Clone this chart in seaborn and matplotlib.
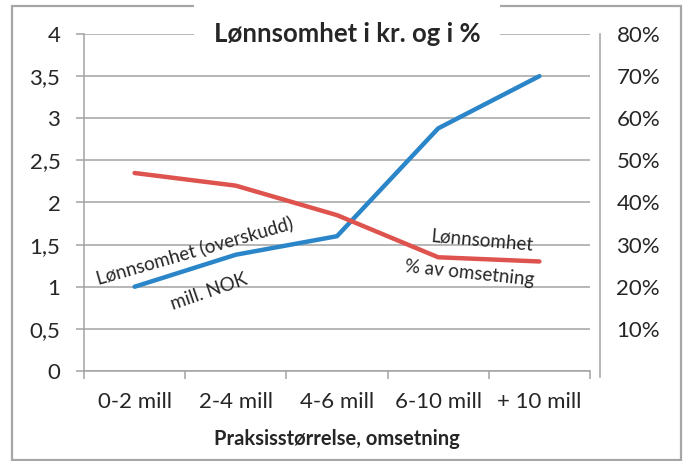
import matplotlib
matplotlib.use("Agg")
import matplotlib.pyplot as plt
import matplotlib.patches as mpatches
import pandas as pd
import seaborn as sns

# data
kategorier = ["0-2 mill", "2-4 mill", "4-6 mill", "6-10 mill", "+ 10 mill"]
overskudd_mill = [1.0, 1.38, 1.60, 2.88, 3.50]      # left axis, mill. NOK
prosent_omsetning = [47, 44, 37, 27, 26]            # right axis, %
venstre_ticks = [0, 0.5, 1, 1.5, 2, 2.5, 3, 3.5, 4]
venstre_labels = ["0", "0,5", "1", "1,5", "2", "2,5", "3", "3,5", "4"]
hoyre_ticks = [10, 20, 30, 40, 50, 60, 70, 80]
hoyre_labels = ["10%", "20%", "30%", "40%", "50%", "60%", "70%", "80%"]

df = pd.DataFrame({"kategori": kategorier,
                   "mill": overskudd_mill,
                   "prosent": prosent_omsetning})

sns.set_style("white")
plt.rcParams["font.family"] = ["Lato", "DejaVu Sans"]

W, H = 684, 461
fig = plt.figure(figsize=(W / 100, H / 100), dpi=100)
ax = fig.add_axes([84 / W, 1 - 371 / H, (590 - 84) / W, (371 - 34) / H])
ax2 = ax.twinx()

grey = "#A3A3A3"
blue = "#2A86C8"
red = "#DE534E"

sns.lineplot(data=df, x="kategori", y="mill", ax=ax, color=blue, lw=3.2, sort=False)
sns.lineplot(data=df, x="kategori", y="prosent", ax=ax2, color=red, lw=3.2, sort=False)

ax.set_xlim(-0.5, 4.5)
ax.set_ylim(0, 4)
ax2.set_ylim(0, 80)

# left axis
ax.set_yticks(venstre_ticks)
ax.set_yticklabels(venstre_labels)
ax.grid(axis="y", color=grey, lw=1.1)
ax.grid(axis="x", visible=False)
ax.tick_params(axis="y", length=6, width=1.1, color=grey, pad=11, labelsize=16, left=True)

# x axis: ticks at category boundaries
ax.set_xticks(range(len(kategorier)))
ax.set_xticklabels(kategorier)
ax.set_xticks([i - 0.5 for i in range(len(kategorier) + 1)], minor=True)
ax.tick_params(axis="x", which="major", length=0, pad=15, labelsize=16)
ax.tick_params(axis="x", which="minor", length=6, width=1.1, color=grey, bottom=True)
ax.set_xlabel("Praksisstørrelse, omsetning", fontsize=14.5, fontweight="bold", labelpad=12)
ax.set_ylabel("")

for s in ["top", "right"]:
    ax.spines[s].set_visible(False)
for s in ["left", "bottom"]:
    ax.spines[s].set_color(grey)
    ax.spines[s].set_linewidth(1.1)

# right axis
ax2.set_yticks(hoyre_ticks)
ax2.set_yticklabels(hoyre_labels)
ax2.tick_params(axis="y", length=0, pad=12, labelsize=16)
ax2.set_ylabel("")
for s in ["top", "left", "bottom"]:
    ax2.spines[s].set_visible(False)
ax2.spines["right"].set_position(("outward", 7))
ax2.spines["right"].set_color(grey)
ax2.spines["right"].set_linewidth(1.1)
ax2.spines["right"].set_bounds(-1.5, 80)
ax2.grid(False)

# line labels
ax.text(0.59, 1.43, "Lønnsomhet (overskudd)", rotation=16, rotation_mode="anchor",
        ha="center", va="center", fontsize=13.5)
ax.text(0.73, 0.94, "mill. NOK", rotation=19, rotation_mode="anchor",
        ha="center", va="center", fontsize=13.5)
ax.text(3.43, 1.55, "Lønnsomhet", rotation=-5, rotation_mode="anchor",
        ha="center", va="center", fontsize=13.5)
ax.text(3.31, 1.16, "% av omsetning", rotation=-6, rotation_mode="anchor",
        ha="center", va="center", fontsize=13.5)

# title sitting on the top gridline
fig.text(347 / W, 1 - 34 / H, "Lønnsomhet i kr. og i %", ha="center", va="center",
         fontsize=18.5, fontweight="bold", zorder=10,
         bbox=dict(boxstyle="square,pad=0.75", fc="white", ec="none"))

# chart frame
fig.patches.append(mpatches.Rectangle((12 / W, 1 - 460 / H), (681 - 12) / W, (460 - 6) / H,
                                      transform=fig.transFigure, fill=False,
                                      ec="#A6A6A6", lw=1.6))

fig.savefig("out.png", dpi=100)
